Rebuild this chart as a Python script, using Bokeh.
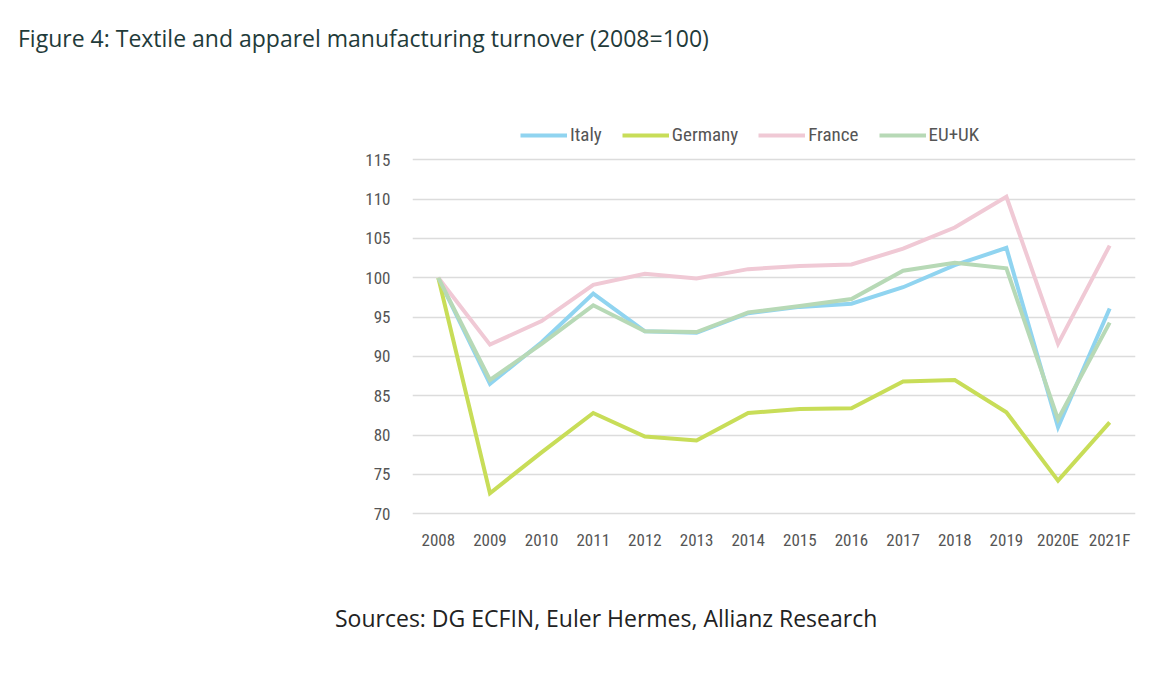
from bokeh.plotting import figure
from bokeh.models import Range1d, Legend, LegendItem, FactorRange, Div
from bokeh.layouts import column
from bokeh.embed import file_html
from bokeh.resources import INLINE

years = ["2008", "2009", "2010", "2011", "2012", "2013", "2014", "2015", "2016",
         "2017", "2018", "2019", "2020E", "2021F"]
italy = [100, 86.5, 91.8, 98.0, 93.2, 93.0, 95.5, 96.3, 96.7, 98.8, 101.6, 103.8, 81.0, 96.1]
germany = [100, 72.6, 77.8, 82.8, 79.8, 79.3, 82.8, 83.3, 83.4, 86.8, 87.0, 82.9, 74.2, 81.6]
france = [100, 91.5, 94.5, 99.1, 100.5, 99.9, 101.1, 101.5, 101.7, 103.7, 106.4, 110.3, 91.6, 104.1]
euuk = [100, 87.0, 91.6, 96.5, 93.2, 93.1, 95.6, 96.4, 97.3, 100.9, 101.9, 101.2, 82.0, 94.3]
y_ticks = [70, 75, 80, 85, 90, 95, 100, 105, 110, 115]

title_text = "Figure 4: Textile and apparel manufacturing turnover (2008=100)"
source_text = "Sources: DG ECFIN, Euler Hermes, Allianz Research"

title_div = Div(text=title_text, width=1150, height=70, margin=0,
                styles={"font-family": "Open Sans", "font-size": "23px", "color": "#1f3b3a",
                        "padding-left": "18px", "padding-top": "22px", "white-space": "nowrap"})

p = figure(width=1150, height=500, x_range=FactorRange(*years), y_range=Range1d(69, 119.5),
           output_backend="svg", toolbar_location=None, margin=0,
           min_border_left=412, min_border_right=15, min_border_top=54, min_border_bottom=49)
p.outline_line_color = None
p.background_fill_color = "white"
p.border_fill_color = "white"

series = [("Italy", italy, "#90d4f0"), ("Germany", germany, "#c8dd58"),
          ("France", france, "#f0c9d5"), ("EU+UK", euuk, "#b7d9b6")]
items = []
for name, vals, col in series:
    r = p.line(years, vals, line_color=col, line_width=4, line_join="miter")
    items.append(LegendItem(label=name, renderers=[r]))

p.xgrid.grid_line_color = None
p.ygrid.grid_line_color = "#dcdcdc"
p.ygrid.grid_line_width = 1.5
p.yaxis.ticker = y_ticks
for ax in (p.xaxis[0], p.yaxis[0]):
    ax.axis_line_color = None
    ax.major_tick_line_color = None
    ax.minor_tick_line_color = None
    ax.major_label_text_color = "#555555"
    ax.major_label_text_font = "Roboto Condensed"
    ax.major_label_text_font_size = "17px"
p.yaxis.major_label_standoff = 16
p.xaxis.major_label_standoff = 2

legend = Legend(items=items, orientation="horizontal", location=(108, 375),
                glyph_width=47, label_standoff=3, spacing=20,
                label_text_font="Roboto Condensed", label_text_font_size="19px",
                label_text_color="#555555", border_line_color=None,
                background_fill_alpha=0, padding=0, margin=0)
p.add_layout(legend)

src_div = Div(text=source_text, width=1150, height=90, margin=0,
              styles={"font-family": "Open Sans", "font-size": "23px", "color": "#222222",
                      "padding-left": "335px", "padding-top": "32px", "white-space": "nowrap"})

layout = column(title_div, p, src_div, spacing=0)
open("out.html", "w").write(file_html(layout, INLINE))
